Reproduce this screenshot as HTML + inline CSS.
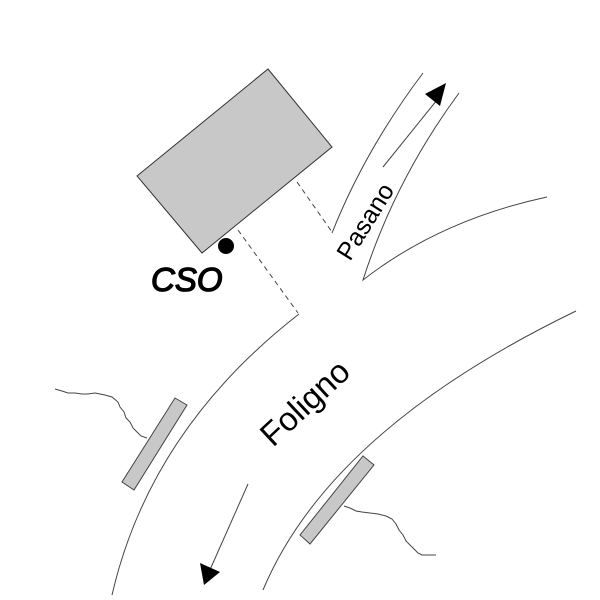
<!DOCTYPE html>
<html><head><style>body{margin:0;background:#fff}svg{display:block}</style></head>
<body>
<svg width="600" height="600" viewBox="0 0 600 600" xmlns="http://www.w3.org/2000/svg" font-family="Liberation Sans, Arial, sans-serif">
<rect width="600" height="600" fill="#fff"/>
<polygon points="137,176 268,69 332,147 202,253" fill="#c8c8c8" stroke="#333" stroke-width="1"/>
<circle cx="226" cy="246" r="8" fill="#000"/>
<text x="151" y="291" font-size="33" font-style="italic" stroke="#000" stroke-width="1.3">CSO</text>
<g stroke="#444" stroke-width="1" fill="none" stroke-dasharray="5,4">
<line x1="297" y1="182" x2="332" y2="232"/>
<line x1="238" y1="230" x2="298" y2="313"/>
</g>
<g stroke="#444" stroke-width="1" fill="none">
<path d="M299,314 Q150,430 112,595"/>
<path d="M576,311 Q330,430 263,590"/>
<path d="M423,73 Q365,150 332,233"/>
<path d="M459,93 Q395,180 363,280 Q440,220 547,197"/>
<line x1="383" y1="167" x2="437" y2="100"/>
<line x1="248" y1="484" x2="209" y2="572"/>
<path d="M55,389 L62,391 L68,393 L75,393 L82,394 L88,394 L95,393 L105,395 L112,397 L118,402 L120,407 L124,412 L126,418 L130,422 L133,428 L137,432 L141,436 L147,438"/>
<path d="M344,506 L350,508 L356,511 L362,512 L370,513 L378,514 L386,516 L392,519 L396,524 L399,530 L403,535 L406,541 L410,545 L414,549 L418,553 L422,555 L436,555"/>
</g>
<polygon points="446,83 440,106 425,94" fill="#000"/>
<polygon points="204,585 220,572 200,563" fill="#000"/>
<polygon points="175,398 187,405 134,490 122,482" fill="#c8c8c8" stroke="#444" stroke-width="1"/>
<polygon points="363,456 374,465 310,544 300,535" fill="#c8c8c8" stroke="#444" stroke-width="1"/>
<text font-size="25" transform="translate(350,262) rotate(-58)">Pasano</text>
<text font-size="33" transform="translate(273,448) rotate(-43)">Foligno</text>
</svg>
</body></html>
